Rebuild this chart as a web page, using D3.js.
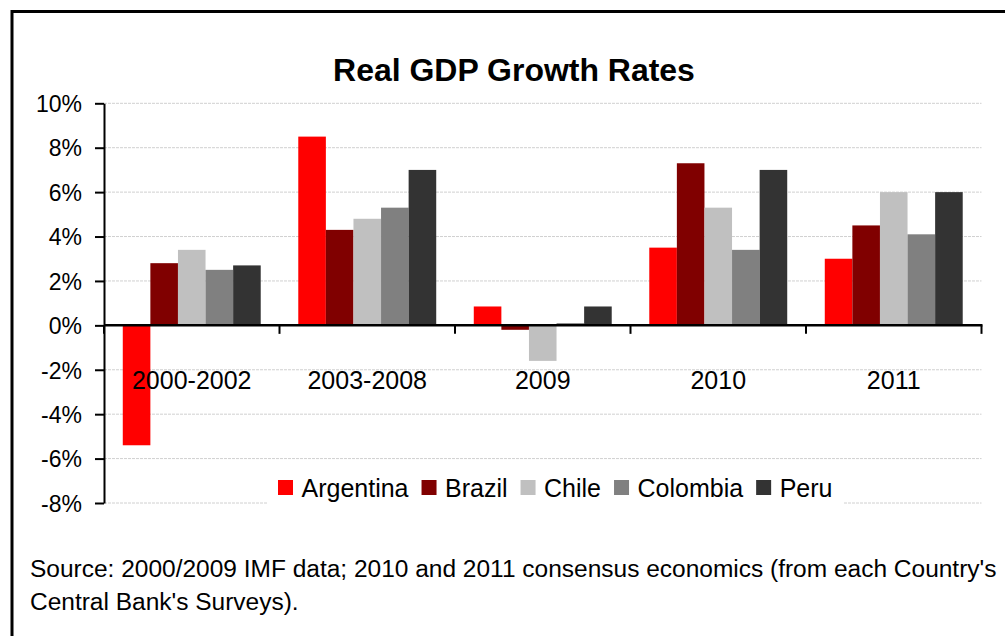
<!DOCTYPE html>
<html>
<head>
<meta charset="utf-8">
<script src="https://cdn.jsdelivr.net/npm/d3@7"></script>
<style>
  html, body { margin: 0; padding: 0; background: #fff; }
  svg { display: block; font-family: "Liberation Sans", Arial, Helvetica, sans-serif; }
</style>
</head>
<body>
<svg id="chart" width="1005" height="636"></svg>
<script>
const categories = ["2000-2002", "2003-2008", "2009", "2010", "2011"];
const countries = ["Argentina", "Brazil", "Chile", "Colombia", "Peru"];
const argentina = [-5.4, 8.5, 0.85, 3.5, 3.0];
const brazil    = [2.8, 4.3, -0.2, 7.3, 4.5];
const chile     = [3.4, 4.8, -1.6, 5.3, 6.0];
const colombia  = [2.5, 5.3, 0.1, 3.4, 4.1];
const peru      = [2.7, 7.0, 0.85, 7.0, 6.0];
const yTicks = [-8, -6, -4, -2, 0, 2, 4, 6, 8, 10];
const colors = ["#FF0000", "#800000", "#C0C0C0", "#808080", "#333333"];
const title = "Real GDP Growth Rates";
const sourceLines = [
  "Source: 2000/2009 IMF data; 2010 and 2011 consensus economics (from each Country's",
  "Central Bank's Surveys)."
];

const seriesValues = [argentina, brazil, chile, colombia, peru];
const data = categories.map((c, i) => ({
  category: c,
  values: countries.map((k, j) => ({ country: k, value: seriesValues[j][i] }))
}));

const svg = d3.select("#chart");

function fitFont(sel, base, target) {
  sel.style("font-size", base + "px");
  const w = sel.node().getComputedTextLength();
  const size = base * target / w;
  sel.style("font-size", size + "px");
  return size;
}

// outer frame
svg.append("path")
  .attr("d", "M12,640 L12,11.5 L1010,11.5")
  .attr("fill", "none").attr("stroke", "#000").attr("stroke-width", 3);

const plotLeft = 104, plotRight = 981.5, plotTop = 103.3, plotBottom = 503;
const y = d3.scaleLinear().domain([-8, 10]).range([plotBottom, plotTop]);
const x0 = d3.scaleBand().domain(categories).range([plotLeft, plotRight]).padding(0);
const bw = x0.bandwidth();
const x1 = d3.scaleBand().domain(countries).range([bw * 0.107, bw * 0.893]).padding(0);
const color = d3.scaleOrdinal().domain(countries).range(colors);

// gridlines
svg.append("g")
  .selectAll("line").data(yTicks.filter(t => t !== 0)).join("line")
  .attr("x1", plotLeft).attr("x2", plotRight)
  .attr("y1", d => y(d)).attr("y2", d => y(d))
  .attr("stroke", "#d0d0d0").attr("stroke-width", 1)
  .attr("stroke-dasharray", "3,1");

// bars
const groups = svg.append("g").selectAll("g").data(data).join("g")
  .attr("transform", d => `translate(${x0(d.category)},0)`);
groups.selectAll("rect").data(d => d.values).join("rect")
  .attr("x", d => x1(d.country))
  .attr("width", x1.bandwidth())
  .attr("y", d => y(Math.max(0, d.value)))
  .attr("height", d => Math.abs(y(d.value) - y(0)))
  .attr("fill", d => color(d.country));

// y axis
const yAxis = d3.axisLeft(y).tickValues(yTicks).tickSize(9).tickSizeOuter(0)
  .tickFormat(d => d + "%");
const yg = svg.append("g").attr("transform", `translate(${plotLeft},0)`).call(yAxis);
yg.select(".domain").attr("stroke", "#000").attr("stroke-width", 2);
yg.selectAll(".tick line").attr("stroke", "#000").attr("stroke-width", 2);
yg.selectAll(".tick text")
  .attr("x", -22).attr("dy", "0.36em")
  .style("font-size", "23px").style("font-family", "'Liberation Sans', Arial, sans-serif")
  .attr("fill", "#000");

// x axis at zero
const xTickPos = categories.map(c => x0(c)).concat([plotRight]);
svg.append("line")
  .attr("x1", plotLeft).attr("x2", plotRight + 1)
  .attr("y1", y(0)).attr("y2", y(0))
  .attr("stroke", "#000").attr("stroke-width", 2.5);
svg.append("g").selectAll("line").data(xTickPos).join("line")
  .attr("x1", d => d).attr("x2", d => d)
  .attr("y1", y(0)).attr("y2", y(0) + 8.5)
  .attr("stroke", "#000").attr("stroke-width", 2);

// category labels
svg.append("g").selectAll("text").data(categories).join("text")
  .attr("x", d => x0(d) + bw / 2)
  .attr("y", 389)
  .attr("text-anchor", "middle")
  .style("font-size", "25px")
  .attr("fill", "#000")
  .text(d => d);

// legend
const lg = svg.append("g");
lg.append("rect").attr("x", 268).attr("y", 468).attr("width", 576).attr("height", 42).attr("fill", "#fff");
let lx = 278;
countries.forEach((c, i) => {
  lg.append("rect").attr("x", lx).attr("y", 480).attr("width", 15).attr("height", 15).attr("fill", colors[i]);
  const t = lg.append("text").attr("x", lx + 23.5).attr("y", 497)
    .style("font-size", "25px").attr("fill", "#000").text(c);
  lx += 23.5 + t.node().getComputedTextLength() + 13;
});

// title
const tt = svg.append("text")
  .attr("x", 514).attr("y", 81)
  .attr("text-anchor", "middle")
  .style("font-weight", "bold")
  .attr("fill", "#000")
  .text(title);
fitFont(tt, 30, 362);

// source
const s1 = svg.append("text").attr("x", 30).attr("y", 577).attr("fill", "#000").text(sourceLines[0]);
const fs = fitFont(s1, 22, 967);
svg.append("text").attr("x", 30).attr("y", 610).attr("fill", "#000")
  .style("font-size", fs + "px").text(sourceLines[1]);
</script>
</body>
</html>
